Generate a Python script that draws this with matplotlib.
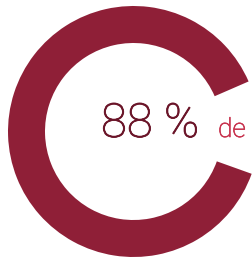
import matplotlib
matplotlib.use("Agg")
import matplotlib.pyplot as plt
import matplotlib.patheffects as pe

# share shown by the ring
values = [88, 12]
label_value = "88 %"
label_tail = "de"

RING = "#8f1f37"
TEXT_DARK = "#6a1428"
TEXT_LIGHT = "#c8344f"

fig = plt.figure(figsize=(2.53, 2.58), dpi=100)
ax = fig.add_axes([0, 0, 1, 1])

ax.pie(values, colors=[RING, "none"], startangle=23.5, counterclock=True,
       center=(133.5, 126.5), radius=125.5,
       wedgeprops=dict(width=37, edgecolor="none"))

ax.set_xlim(0, 253)
ax.set_ylim(0, 258)
ax.set_aspect("equal")
ax.axis("off")

# light face, thickened a touch to match the reference stroke
ax.text(101, 121, label_value, fontsize=34, color=TEXT_DARK,
        family="Roboto", fontweight="light", ha="left", va="baseline",
        path_effects=[pe.withStroke(linewidth=0.6, foreground=TEXT_DARK)])
ax.text(218, 121, label_tail, fontsize=19, color=TEXT_LIGHT,
        family="Roboto", fontweight="light", ha="left", va="baseline",
        path_effects=[pe.withStroke(linewidth=0.5, foreground=TEXT_LIGHT)])

fig.savefig("out.png", dpi=100)
